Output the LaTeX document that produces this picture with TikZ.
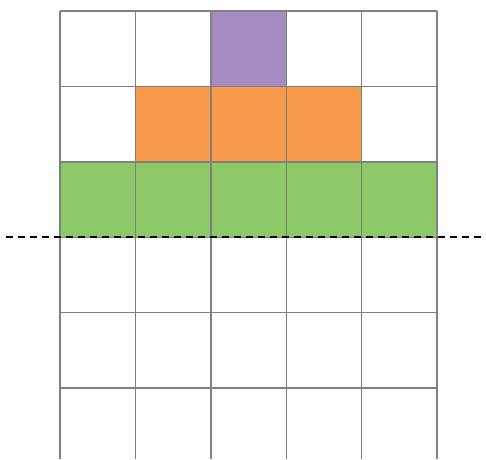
\documentclass[tikz,border=0pt]{standalone}
\definecolor{cpurple}{HTML}{A68BC2}
\definecolor{corange}{HTML}{F79A4B}
\definecolor{cgreen}{HTML}{8DC966}
\definecolor{cgrid}{HTML}{808080}
\tikzset{
  gridline/.style={draw=cgrid, line width=1.4pt},
  cutline/.style={draw=black, line width=2.4pt, dash pattern=on 7pt off 5pt},
}
\begin{document}
\begin{tikzpicture}[x=1pt,y=-1pt]
\useasboundingbox (0,0) rectangle (486,459);
\def\cw{75.4}
% coloured cells
\fill[cpurple] (60+2*\cw,11) rectangle (60+3*\cw,11+\cw);
\foreach \i in {1,2,3} \fill[corange] (60+\i*\cw,11+\cw) rectangle (60+\i*\cw+\cw,11+2*\cw);
\foreach \i in {0,...,4} \fill[cgreen] (60+\i*\cw,11+2*\cw) rectangle (60+\i*\cw+\cw,11+3*\cw);
% grid
\foreach \i in {0,...,5} \draw[gridline] (60+\i*\cw,11) -- (60+\i*\cw,459);
\foreach \j in {0,...,5} \draw[gridline] (60,11+\j*\cw) -- (437,11+\j*\cw);
% dashed line
\coordinate (dl) at (6,237.2);
\coordinate (dr) at (486,237.2);
\draw[cutline] (dl) -- (dr);
\end{tikzpicture}
\end{document}
